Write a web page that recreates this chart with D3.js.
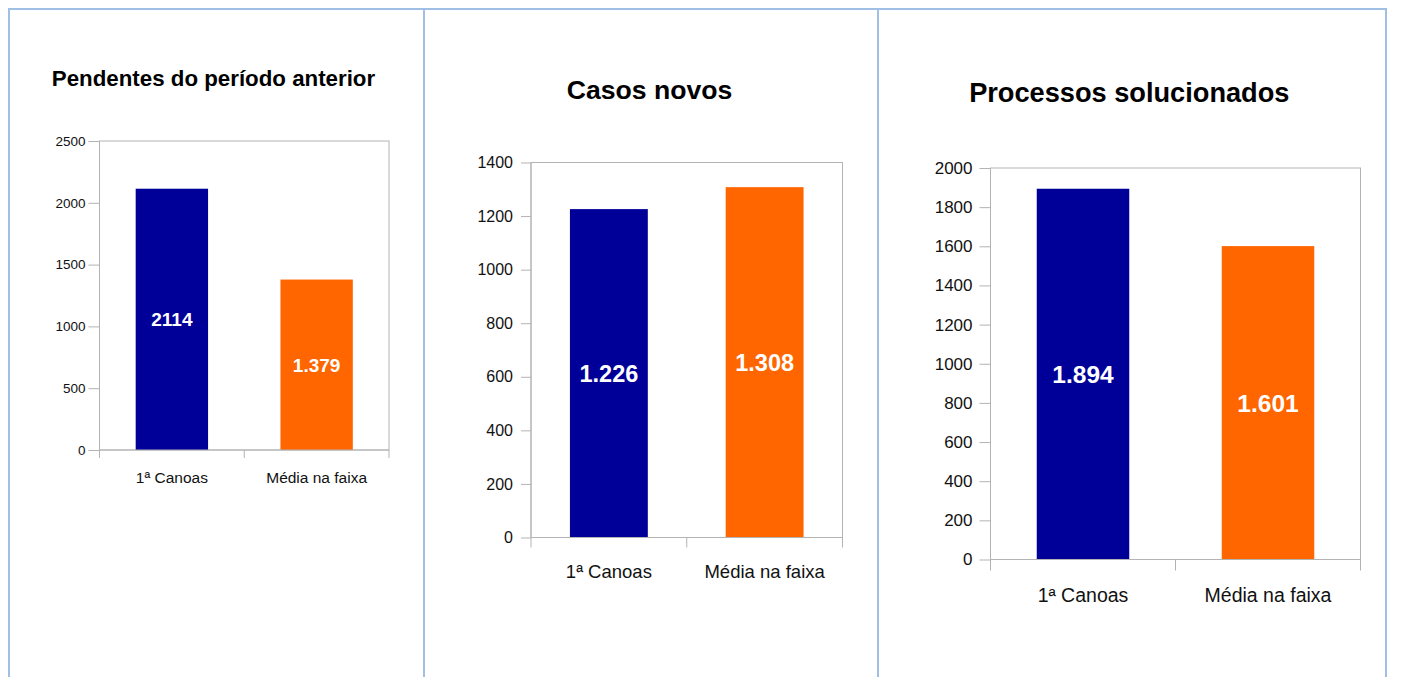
<!DOCTYPE html>
<html>
<head>
<meta charset="utf-8">
<script src="https://cdn.jsdelivr.net/npm/d3@7"></script>
<style>
  html, body { margin: 0; padding: 0; background: #ffffff; }
  svg { display: block; }
  text { font-family: "Liberation Sans", Arial, Helvetica, sans-serif; }
</style>
</head>
<body>
<svg id="chart" width="1407" height="677"></svg>
<script>
// ---- data ----
const categories = ["1ª Canoas", "Média na faixa"];
const titles = ["Pendentes do período anterior", "Casos novos", "Processos solucionados"];
const pendentesValues = [2114, 1379];
const casosNovosValues = [1226, 1308];
const solucionadosValues = [1894, 1601];
const pendentesLabels = ["2114", "1.379"];
const casosNovosLabels = ["1.226", "1.308"];
const solucionadosLabels = ["1.894", "1.601"];
const pendentesTicks = [0, 500, 1000, 1500, 2000, 2500];
const casosNovosTicks = [0, 200, 400, 600, 800, 1000, 1200, 1400];
const solucionadosTicks = [0, 200, 400, 600, 800, 1000, 1200, 1400, 1600, 1800, 2000];
const barColors = ["#000099", "#ff6600"];

// ---- layout (positions/styles only) ----
const panels = [
  { title: titles[0], values: pendentesValues, labels: pendentesLabels, ticks: pendentesTicks,
    left: 99.5, right: 389, top: 141, bottom: 450,
    titleX: 213.5, titleY: 86, titleSize: 22.3,
    tickSize: 13.5, tickLen: 11, tickGap: 14, xLabelSize: 15.5, xLabelY: 483, xTickLen: 8, barLabelSize: 19 },
  { title: titles[1], values: casosNovosValues, labels: casosNovosLabels, ticks: casosNovosTicks,
    left: 531, right: 842.5, top: 162.5, bottom: 537.5,
    titleX: 649.5, titleY: 99, titleSize: 26.6,
    tickSize: 16, tickLen: 10, tickGap: 18, xLabelSize: 18.5, xLabelY: 578, xTickLen: 10, barLabelSize: 23.5 },
  { title: titles[2], values: solucionadosValues, labels: solucionadosLabels, ticks: solucionadosTicks,
    left: 990.5, right: 1360.5, top: 168, bottom: 559.5,
    titleX: 1129.3, titleY: 101.7, titleSize: 27.2,
    tickSize: 17, tickLen: 11, tickGap: 18, xLabelSize: 19.5, xLabelY: 602, xTickLen: 11, barLabelSize: 24.5 }
];

const svg = d3.select("#chart");

// panel borders
const borderColor = "#9fc0e4";
const borderXs = [9, 424, 878, 1386];
svg.append("line").attr("x1", 8).attr("x2", 1387).attr("y1", 9).attr("y2", 9)
  .attr("stroke", borderColor).attr("stroke-width", 2);
svg.selectAll("line.vborder").data(borderXs).join("line").attr("class", "vborder")
  .attr("x1", d => d).attr("x2", d => d).attr("y1", 8).attr("y2", 677)
  .attr("stroke", borderColor).attr("stroke-width", 2);

const gridColor = "#b3b3b3";

panels.forEach(p => {
  const g = svg.append("g");
  const yMax = p.ticks[p.ticks.length - 1];
  const y = d3.scaleLinear().domain([0, yMax]).range([p.bottom, p.top]);
  const x = d3.scaleBand().domain(categories).range([p.left, p.right])
    .paddingInner(0.5).paddingOuter(0.25);

  // title
  g.append("text").attr("x", p.titleX).attr("y", p.titleY)
    .attr("text-anchor", "middle").attr("font-weight", "bold")
    .attr("font-size", p.titleSize).attr("fill", "#000").text(p.title);

  // frame (top and right)
  g.append("rect").attr("x", p.left).attr("y", p.top)
    .attr("width", p.right - p.left).attr("height", p.bottom - p.top)
    .attr("fill", "none").attr("stroke", gridColor).attr("stroke-width", 1);

  // y axis
  const yAxis = d3.axisLeft(y).tickValues(p.ticks).tickFormat(d3.format("d"))
    .tickSize(p.tickLen).tickPadding(p.tickGap - p.tickLen);
  const ya = g.append("g").attr("transform", `translate(${p.left},0)`).call(yAxis);
  ya.select(".domain").attr("stroke", gridColor).attr("d", `M0,${p.top}V${p.bottom}`);
  ya.selectAll(".tick line").attr("stroke", gridColor);
  ya.selectAll(".tick text").attr("font-size", p.tickSize)
    .attr("font-family", "'Liberation Sans', Arial, sans-serif").attr("fill", "#111");

  // bars
  g.selectAll("rect.bar").data(p.values).join("rect").attr("class", "bar")
    .attr("x", (d, i) => x(categories[i]))
    .attr("width", x.bandwidth())
    .attr("y", d => y(d))
    .attr("height", d => y(0) - y(d))
    .attr("fill", (d, i) => barColors[i]);

  // x axis line + boundary ticks
  const step = x.step();
  const bounds = [p.left, x(categories[0]) - step * 0.25 + step, p.right];
  g.append("line").attr("x1", p.left).attr("x2", p.right)
    .attr("y1", p.bottom).attr("y2", p.bottom).attr("stroke", gridColor);
  g.selectAll("line.xtick").data(bounds).join("line").attr("class", "xtick")
    .attr("x1", d => d).attr("x2", d => d)
    .attr("y1", p.bottom).attr("y2", p.bottom + p.xTickLen)
    .attr("stroke", gridColor);

  // x labels
  g.selectAll("text.xlab").data(categories).join("text").attr("class", "xlab")
    .attr("x", d => x(d) + x.bandwidth() / 2).attr("y", p.xLabelY)
    .attr("text-anchor", "middle").attr("font-size", p.xLabelSize).attr("fill", "#111")
    .text(d => d);

  // bar value labels
  g.selectAll("text.vlab").data(p.values).join("text").attr("class", "vlab")
    .attr("x", (d, i) => x(categories[i]) + x.bandwidth() / 2)
    .attr("y", d => (y(d) + y(0)) / 2)
    .attr("dy", "0.36em")
    .attr("text-anchor", "middle").attr("font-weight", "bold")
    .attr("font-size", p.barLabelSize).attr("fill", "#ffffff")
    .text((d, i) => p.labels[i]);
});
</script>
</body>
</html>
